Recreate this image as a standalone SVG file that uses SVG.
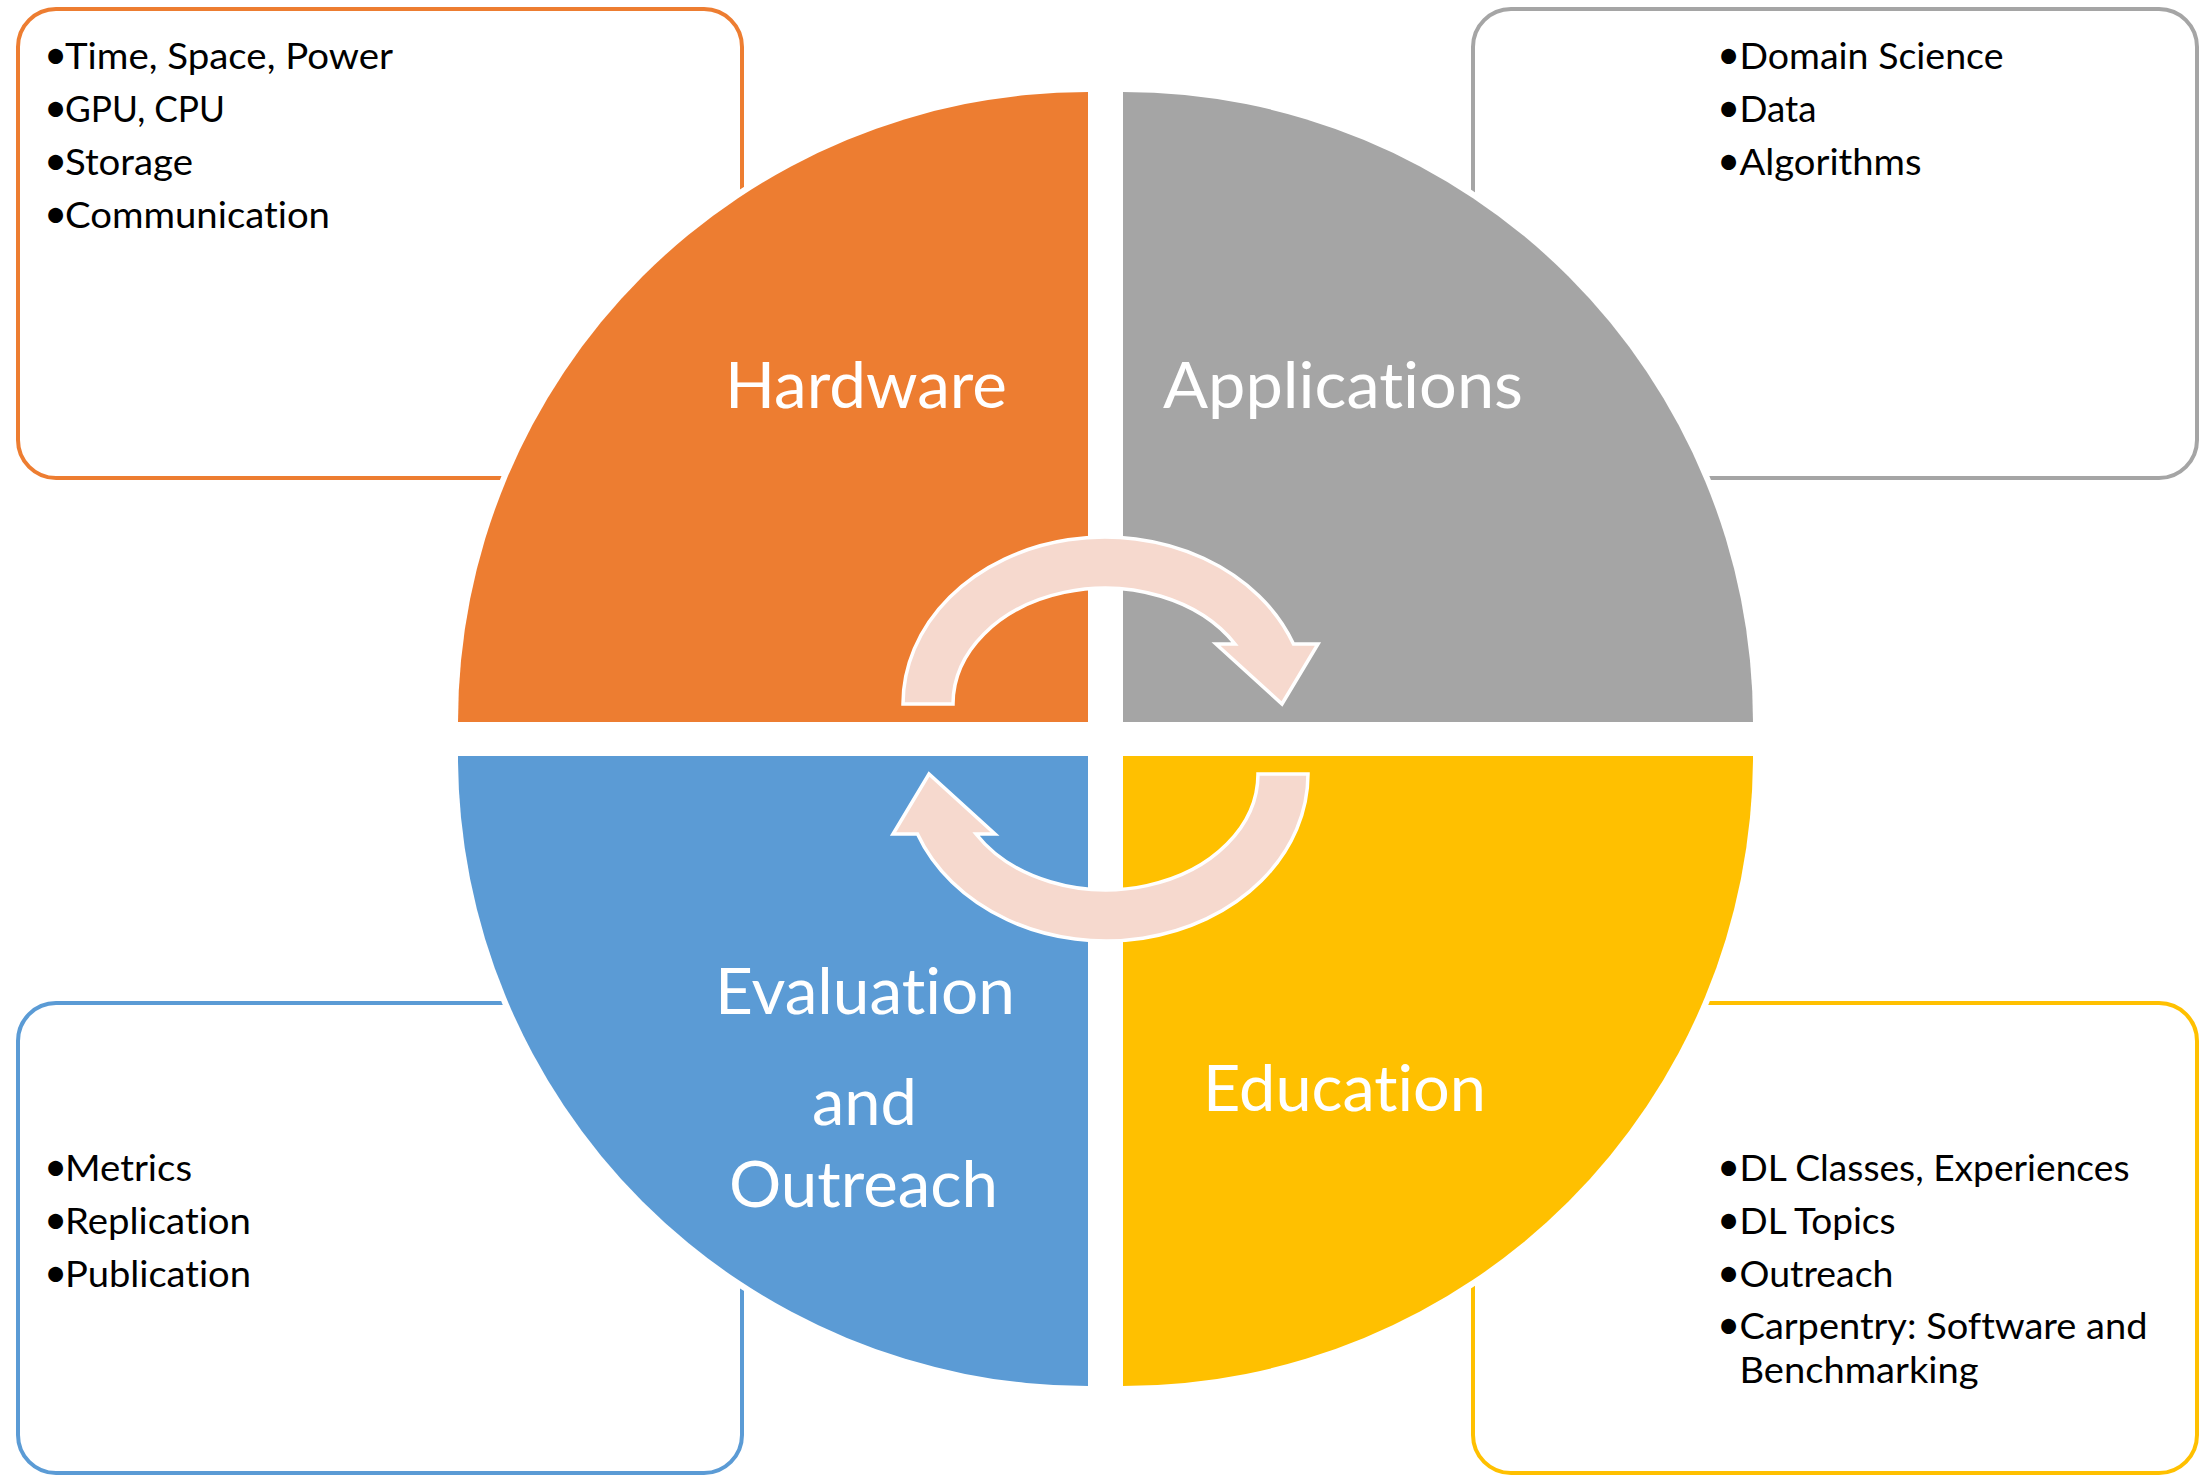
<svg xmlns="http://www.w3.org/2000/svg" width="2209" height="1480" viewBox="0 0 2209 1480">
  <style>
    text { font-variant-ligatures: none; font-feature-settings: "liga" 0, "clig" 0; }
    .box { fill: #ffffff; stroke-width: 4; }
    .item { font-family: Lato, "Liberation Sans", sans-serif; font-size: 37px; fill: #000000; }
    .dot { font-size: 40px; }
    .label { font-family: Lato, "Liberation Sans", sans-serif; font-size: 64px; fill: #ffffff; }
    .quad { stroke: #ffffff; stroke-width: 12; paint-order: stroke; stroke-linejoin: miter; }
    .cycle { fill: #F6D9CE; stroke: #ffffff; stroke-width: 3.5; stroke-linejoin: miter; }
  </style>
  <defs>
    <!-- curved block arrow: tail at lower left, head pointing down-right -->
    <path id="cycleArrow" d="M 903 704 A 202 167 0 0 1 1293.5 644 L 1318 644 L 1282 704 L 1216 644 L 1235 644 A 152 116 0 0 0 953 704 Z"/>
  </defs>
  <rect width="2209" height="1480" fill="#ffffff"/>

  <!-- detail boxes, partly covered by the circle -->
  <g id="box-hardware">
    <rect class="box" x="18" y="9" width="724" height="469" rx="38" stroke="#ED7D31"/>
    <text class="item" y="69"><tspan class="dot" x="44">•</tspan><tspan x="65" textLength="328" lengthAdjust="spacingAndGlyphs">Time, Space, Power</tspan></text>
    <text class="item" y="122"><tspan class="dot" x="44">•</tspan><tspan x="65" textLength="160" lengthAdjust="spacingAndGlyphs">GPU, CPU</tspan></text>
    <text class="item" y="175"><tspan class="dot" x="44">•</tspan><tspan x="65" textLength="128" lengthAdjust="spacingAndGlyphs">Storage</tspan></text>
    <text class="item" y="228"><tspan class="dot" x="44">•</tspan><tspan x="65" textLength="265" lengthAdjust="spacingAndGlyphs">Communication</tspan></text>
  </g>
  <g id="box-applications">
    <rect class="box" x="1473" y="9" width="724" height="469" rx="38" stroke="#A5A5A5"/>
    <text class="item" y="69"><tspan class="dot" x="1717">•</tspan><tspan x="1739.5" textLength="264" lengthAdjust="spacingAndGlyphs">Domain Science</tspan></text>
    <text class="item" y="122"><tspan class="dot" x="1717">•</tspan><tspan x="1739.5" textLength="77" lengthAdjust="spacingAndGlyphs">Data</tspan></text>
    <text class="item" y="175"><tspan class="dot" x="1717">•</tspan><tspan x="1739.5" textLength="182" lengthAdjust="spacingAndGlyphs">Algorithms</tspan></text>
  </g>
  <g id="box-evaluation">
    <rect class="box" x="18" y="1003" width="724" height="470" rx="38" stroke="#5B9BD5"/>
    <text class="item" y="1181"><tspan class="dot" x="44">•</tspan><tspan x="65" textLength="127" lengthAdjust="spacingAndGlyphs">Metrics</tspan></text>
    <text class="item" y="1234"><tspan class="dot" x="44">•</tspan><tspan x="65" textLength="186" lengthAdjust="spacingAndGlyphs">Replication</tspan></text>
    <text class="item" y="1287"><tspan class="dot" x="44">•</tspan><tspan x="65" textLength="186" lengthAdjust="spacingAndGlyphs">Publication</tspan></text>
  </g>
  <g id="box-education">
    <rect class="box" x="1473" y="1003" width="724" height="470" rx="38" stroke="#FFC000"/>
    <text class="item" y="1181"><tspan class="dot" x="1717">•</tspan><tspan x="1739.5" textLength="390" lengthAdjust="spacingAndGlyphs">DL Classes, Experiences</tspan></text>
    <text class="item" y="1234"><tspan class="dot" x="1717">•</tspan><tspan x="1739.5" textLength="156" lengthAdjust="spacingAndGlyphs">DL Topics</tspan></text>
    <text class="item" y="1287"><tspan class="dot" x="1717">•</tspan><tspan x="1739.5" textLength="154" lengthAdjust="spacingAndGlyphs">Outreach</tspan></text>
    <text class="item" y="1339"><tspan class="dot" x="1717">•</tspan><tspan x="1739.5" textLength="408" lengthAdjust="spacingAndGlyphs">Carpentry: Software and</tspan></text>
    <text class="item" y="1383"><tspan x="1739.5" textLength="239" lengthAdjust="spacingAndGlyphs">Benchmarking</tspan></text>
  </g>

  <!-- four quadrants of the circle -->
  <g id="quad-hardware">
    <path class="quad" fill="#ED7D31" d="M 1088 722 L 458 722 A 630 630 0 0 1 1088 92 Z"/>
    <text class="label" x="725" y="408" textLength="282" lengthAdjust="spacingAndGlyphs">Hardware</text>
  </g>
  <g id="quad-applications">
    <path class="quad" fill="#A5A5A5" d="M 1123 722 L 1123 92 A 630 630 0 0 1 1753 722 Z"/>
    <text class="label" x="1163" y="408" textLength="360" lengthAdjust="spacingAndGlyphs">Applications</text>
  </g>
  <g id="quad-evaluation">
    <path class="quad" fill="#5B9BD5" d="M 1088 756 L 1088 1386 A 630 630 0 0 1 458 756 Z"/>
    <text class="label" x="715" y="1014" textLength="300" lengthAdjust="spacingAndGlyphs">Evaluation</text>
    <text class="label" x="812" y="1125" textLength="105" lengthAdjust="spacingAndGlyphs">and</text>
    <text class="label" x="729" y="1207" textLength="269" lengthAdjust="spacingAndGlyphs">Outreach</text>
  </g>
  <g id="quad-education">
    <path class="quad" fill="#FFC000" d="M 1123 756 L 1753 756 A 630 630 0 0 1 1123 1386 Z"/>
    <text class="label" x="1203" y="1111" textLength="283" lengthAdjust="spacingAndGlyphs">Education</text>
  </g>

  <!-- cycle arrows around the centre -->
  <g id="connectors">
    <use href="#cycleArrow" class="cycle"/>
    <use href="#cycleArrow" class="cycle" transform="rotate(180 1105.5 739)"/>
  </g>
</svg>
